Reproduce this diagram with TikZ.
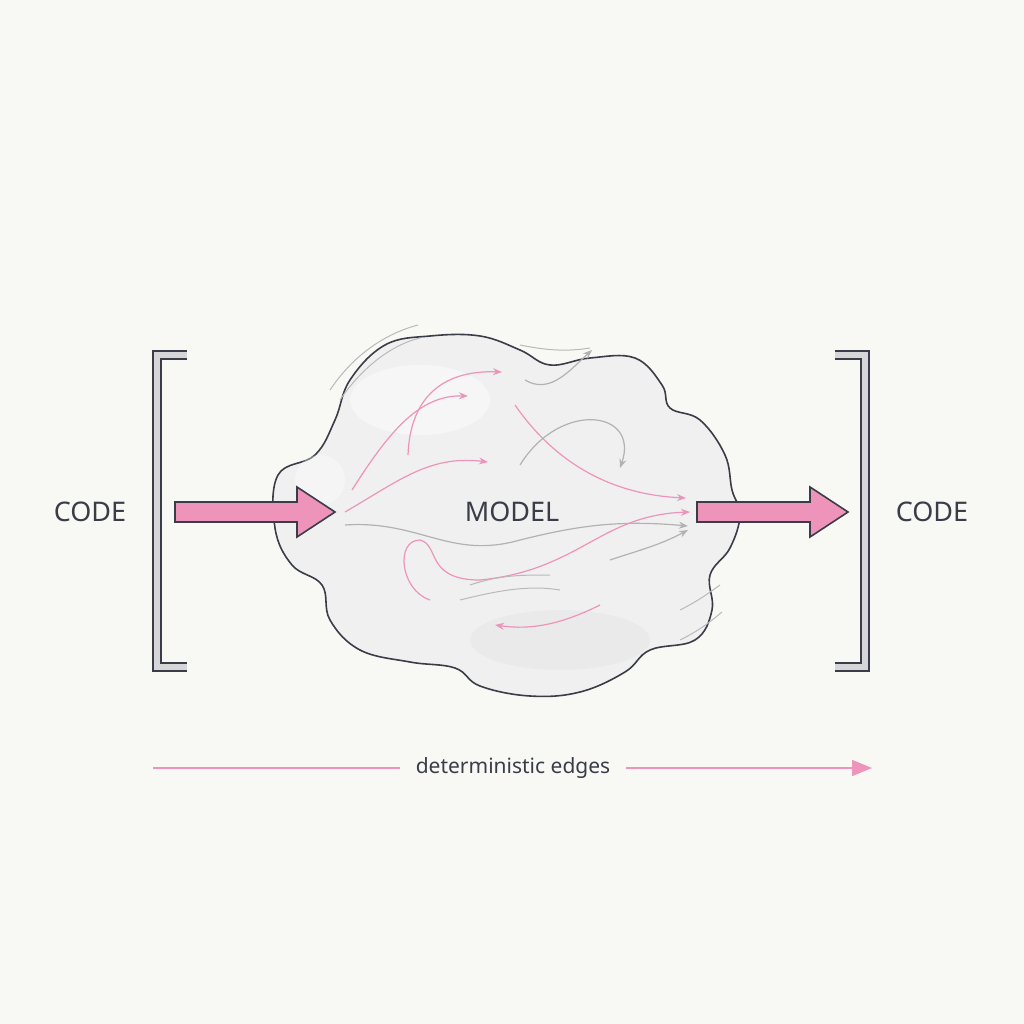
\documentclass[tikz,border=0pt]{standalone}
\usepackage{fontspec}
\setmainfont{Noto Sans}
\usetikzlibrary{arrows.meta}
\definecolor{bg}{HTML}{F8F8F4}
\definecolor{pk}{HTML}{EE93BA}
\definecolor{dk}{HTML}{3A3D48}
\definecolor{brk}{HTML}{D6D6D8}
\tikzset{
  lbl/.style={text=dk,font=\fontsize{27}{30}\selectfont},
  fatarrow/.style={fill=pk,draw=dk,line width=1.6pt,line join=miter},
  brack/.style={draw=dk,line width=10pt,line cap=butt},
  brackin/.style={draw=brk,line width=6pt,line cap=butt},
  swp/.style={draw=pk,line width=1.2pt,-{Stealth[length=9pt,width=7pt]}},
  swg/.style={draw=gray!60,line width=1.2pt,-{Stealth[length=9pt,width=7pt]}},
  wisp/.style={draw=gray!55,line width=1pt},
}
\begin{document}
\begin{tikzpicture}[x=1pt,y=-1pt]
\fill[bg] (0,0) rectangle (1024,1024);
\useasboundingbox (0,0) rectangle (1024,1024);
% brackets
\foreach \s in {brack,brackin}{
 \draw[\s] (187,355) -- (157,355) -- (157,667) -- (187,667);
 \draw[\s] (835,355) -- (865,355) -- (865,667) -- (835,667);
}
% cloud
\path[fill=gray!12,draw=dk,line width=1.6pt] plot[smooth cycle,tension=0.65] coordinates {
 (278,475) (315,455) (335,420) (350,380) (385,345) (430,336) (480,336) (520,350) (550,365) (590,358) (635,358)
 (662,385) (670,408) (700,420) (725,455) (732,490) (740,515) (730,548) (710,575) (712,610) (695,640) (650,650) (625,672) (580,692)
 (530,696) (480,686) (455,668) (410,662) (360,650) (330,620) (322,585) (292,565) (275,528)};
\fill[white,opacity=0.4] (420,400) ellipse (70 and 35);
\fill[white,opacity=0.35] (320,480) ellipse (25 and 25);
\fill[gray!20,opacity=0.5] (560,640) ellipse (90 and 30);
% swirls
\draw[swp] (345,512) .. controls (400,480) and (430,455) .. (488,462);
\draw[swp] (352,490) .. controls (390,430) and (420,395) .. (468,396);
\draw[swp] (408,455) .. controls (410,400) and (440,370) .. (502,372);
\draw[swp] (515,405) .. controls (560,470) and (620,495) .. (686,498);
\draw[swp] (430,600) .. controls (400,590) and (395,540) .. (420,540)
   .. controls (440,545) and (425,580) .. (480,580)
   .. controls (580,570) and (600,515) .. (690,512);
\draw[swp] (600,605) .. controls (560,625) and (530,630) .. (495,625);
\draw[swg] (520,465) .. controls (560,400) and (640,410) .. (620,468);
\draw[swg] (345,525) .. controls (420,520) and (450,560) .. (520,540)
   .. controls (580,525) and (620,520) .. (688,526);
\draw[swg] (525,380) .. controls (550,395) and (570,370) .. (592,350);
\draw[swg] (610,560) .. controls (640,550) and (660,545) .. (688,530);
\draw[wisp] (330,390) .. controls (350,360) and (380,335) .. (418,325);
\draw[wisp] (340,400) .. controls (360,370) and (390,345) .. (420,338);
\draw[wisp] (520,345) .. controls (545,350) and (565,352) .. (590,348);
\draw[wisp] (680,610) .. controls (700,600) and (710,592) .. (720,585);
\draw[wisp] (680,640) .. controls (700,630) and (710,622) .. (722,612);
\draw[wisp] (460,600) .. controls (500,590) and (530,585) .. (560,590);
\draw[wisp] (470,585) .. controls (500,575) and (520,575) .. (550,575);
% fat arrows
\draw[fatarrow] (175,502) -- (297,502) -- (297,487) -- (335,512) -- (297,537) -- (297,522) -- (175,522) -- cycle;
\draw[fatarrow] (697,502) -- (810,502) -- (810,487) -- (848,512) -- (810,537) -- (810,522) -- (697,522) -- cycle;
% labels
\node[lbl] (c1) at (90,512) {CODE};
\node[lbl] (c2) at (932,512) {CODE};
\node[lbl] (m) at (512,512) {MODEL};
% bottom
\node[text=dk,inner xsep=16pt,font=\fontsize{21}{26}\selectfont] (de) at (513,768) {deterministic edges};
\coordinate (b0) at (153,768);
\coordinate (b1) at (872,768);
\draw[pk,line width=1.5pt] (b0) -- (de.west);
\draw[pk,line width=1.5pt,-{Triangle[length=20pt,width=16pt]}] (de.east) -- (b1);
\end{tikzpicture}
\end{document}
